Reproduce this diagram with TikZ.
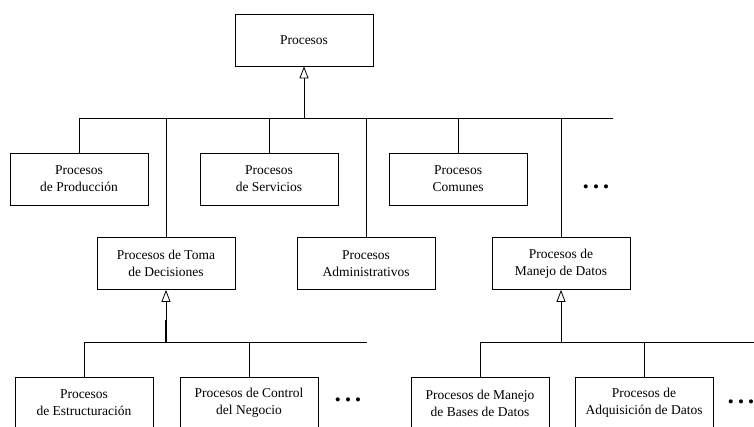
\documentclass[tikz,border=0pt]{standalone}
\usepackage{fontspec}
\setmainfont{Liberation Serif}
\usetikzlibrary{arrows.meta}

\begin{document}
\begin{tikzpicture}[
x=1pt,y=-1pt,
proc/.style={
  draw,
  rectangle,
  line width=0.8pt,
  minimum width=138pt,
  minimum height=52pt,
  inner sep=0pt,
  align=center,
  font=\fontsize{13.5}{17}\selectfont
  },
link/.style={
  line width=0.8pt
  },
isa/.style={
  link,
  -{Triangle[open,length=12pt,width=9pt]}
  },
more/.style={
  inner sep=0pt,
  font=\fontsize{17}{17}\selectfont
  }
]
\useasboundingbox (0,0) rectangle (754,427);

% top level
\node[proc] (root) at (304,40) {Procesos};

\node[proc] (prod)  at (79,179)  {Procesos\\de Producción};
\node[proc] (serv)  at (269,179) {Procesos\\de Servicios};
\node[proc] (comun) at (458,179) {Procesos\\Comunes};
\node[more] (more1) at (596,189) {•~•~•};

\node[proc] (toma)   at (166,263.5) {Procesos de Toma\\de Decisiones};
\node[proc] (admin)  at (366,263.5) {Procesos\\Administrativos};
\node[proc] (manejo) at (561,263.5) {Procesos de\\Manejo de Datos};

% sub-levels
\node[proc] (estr)  at (84,403)  {Procesos\\de Estructuración};
\node[proc] (ctrl)  at (249,403) {Procesos de Control\\del Negocio};
\node[more] (more2) at (348,402) {•~•~•};

\node[proc] (bases) at (480,403) {Procesos de Manejo\\de Bases de Datos};
\node[proc] (adq)   at (644,403) {Procesos de\\Adquisición de Datos};
\node[more] (more3) at (741,404) {•~•~•};

% first bus
\coordinate (hub1) at (304,118);
\coordinate (end1) at (613,118);
\draw[isa] (hub1) -- (root.south);
\draw[link] (prod.north) |- (end1);
\foreach \n in {serv,comun,toma,admin,manejo}
  \draw[link] (\n.north) -- (\n.north |- hub1);

% left bus
\coordinate (hub2) at (166,342);
\coordinate (end2) at (367,342);
\draw[isa] (hub2) -- (toma.south);
\draw[line width=1.8pt] (hub2) -- ++(0,-22);
\draw[link] (estr.north) |- (end2);
\draw[link] (ctrl.north) -- (ctrl.north |- hub2);

% right bus
\coordinate (hub3) at (561,342);
\coordinate (end3) at (754,342);
\draw[isa] (hub3) -- (manejo.south);
\draw[link] (bases.north) |- (end3);
\draw[link] (adq.north) -- (adq.north |- hub3);
\end{tikzpicture}
\end{document}
